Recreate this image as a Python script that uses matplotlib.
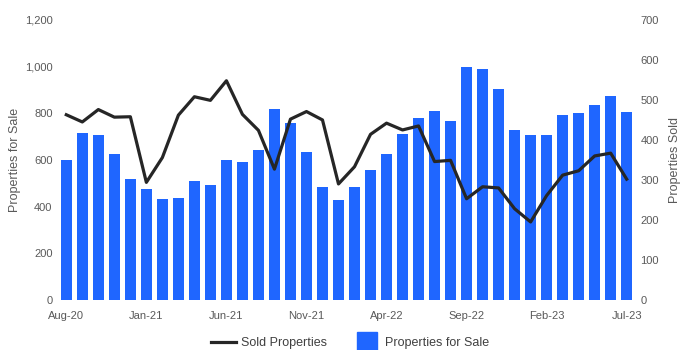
import matplotlib.pyplot as plt
import numpy as np
from matplotlib.lines import Line2D

plt.rcParams['font.family'] = ['Liberation Sans', 'DejaVu Sans']

months = ['Aug-20', 'Sep-20', 'Oct-20', 'Nov-20', 'Dec-20', 'Jan-21', 'Feb-21', 'Mar-21',
          'Apr-21', 'May-21', 'Jun-21', 'Jul-21', 'Aug-21', 'Sep-21', 'Oct-21', 'Nov-21',
          'Dec-21', 'Jan-22', 'Feb-22', 'Mar-22', 'Apr-22', 'May-22', 'Jun-22', 'Jul-22',
          'Aug-22', 'Sep-22', 'Oct-22', 'Nov-22', 'Dec-22', 'Jan-23', 'Feb-23', 'Mar-23',
          'Apr-23', 'May-23', 'Jun-23', 'Jul-23']

for_sale = [600, 714, 706, 625, 518, 476, 433, 437, 510, 493, 599, 591, 642, 817, 757, 633,
            484, 429, 484, 557, 625, 710, 778, 808, 766, 1000, 991, 902, 727, 706, 706, 791,
            800, 834, 872, 804]

sold = [463, 445, 476, 457, 458, 294, 356, 462, 508, 499, 548, 464, 424, 327, 452, 471,
        450, 290, 333, 414, 442, 425, 435, 346, 349, 253, 283, 280, 228, 195, 261, 312,
        323, 360, 367, 302]

blue = '#1f66ff'
dark = '#262626'
grey = '#595959'

x = np.arange(len(months))

fig = plt.figure(figsize=(7, 3.5), dpi=100)
ax = fig.add_axes([0.081, 0.143, 0.828, 0.8])
ax.bar(x, for_sale, width=0.68, color=blue, zorder=2)
ax.set_ylim(0, 1200)
ax.set_yticks(range(0, 1201, 200))
ax.set_yticklabels(['{:,}'.format(v) for v in range(0, 1201, 200)])
ax.set_xlim(-0.6, len(months) - 0.4)
ax.set_xticks(x[::5])
ax.set_xticklabels(months[::5])
ax.set_ylabel('Properties for Sale', color=grey, fontsize=9, labelpad=3)

ax2 = ax.twinx()
ax2.plot(x, sold, color=dark, linewidth=2.3, zorder=3)
ax2.set_ylim(0, 700)
ax2.set_yticks(range(0, 701, 100))
ax2.set_ylabel('Properties Sold', color=grey, fontsize=9, labelpad=7)

for a in (ax, ax2):
    for s in a.spines.values():
        s.set_visible(False)
    a.tick_params(length=0, labelsize=8, colors=grey, pad=3)
ax.tick_params(axis='x', pad=8)

handles = [Line2D([], [], color=dark, linewidth=2.3),
           Line2D([], [], marker='s', markersize=15, linestyle='none', color=blue)]
fig.legend(handles, ['Sold Properties', 'Properties for Sale'], loc='lower center',
           ncol=2, frameon=False, fontsize=9, handlelength=2.0, handletextpad=0.4,
           columnspacing=2.2, bbox_to_anchor=(0.5, -0.03), labelcolor='#404040')

plt.savefig('out.png', dpi=100)
